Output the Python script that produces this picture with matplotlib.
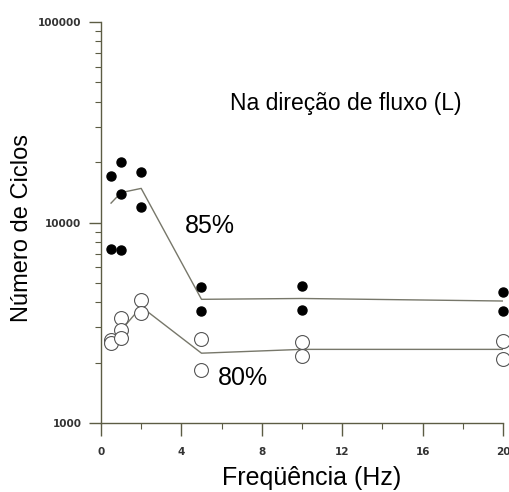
"""Numero de ciclos vs frequencia"""

from matplotlib import pyplot as plt
from matplotlib.ticker import LogLocator, NullFormatter, FixedLocator

# 85% de carga (pontos cheios)
x_85 = [0.5, 0.5, 1, 1, 1, 2, 2, 5, 5, 10, 10, 20, 20]
y_85 = [17000, 7400, 20000, 13800, 7300, 17800, 12000,
        4750, 3600, 4800, 3650, 4500, 3600]

# 80% de carga (pontos vazios)
x_80 = [0.5, 0.5, 1, 1, 1, 2, 2, 5, 5, 10, 10, 20, 20]
y_80 = [2600, 2500, 3350, 2900, 2650, 4100, 3550,
        2620, 1840, 2530, 2160, 2560, 2080]

# curvas medias
x_line = [0.5, 1, 2, 5, 10, 20]
line_85 = [12500, 14100, 14800, 4140, 4180, 4060]
line_80 = [2550, 2900, 3800, 2230, 2330, 2330]

x_ticks = [0, 4, 8, 12, 16, 20]
y_ticks = [1000, 10000, 100000]

ink = '#5c5c44'
font = ['Liberation Sans', 'DejaVu Sans']

fig = plt.figure(figsize=(5.09, 4.92), dpi=100)
ax = fig.add_axes([0.1984, 0.1402, 0.7898, 0.8150])

ax.plot(x_line, line_85, color='#77776a', lw=1.0)
ax.plot(x_line, line_80, color='#77776a', lw=1.0)
ax.plot(x_85, y_85, 'o', color='black', ms=6.5, clip_on=False, zorder=3)
ax.plot(x_80, y_80, 'o', mfc='white', mec='#555555', mew=0.8, ms=10,
        clip_on=False, zorder=3)

ax.set_yscale('log')
ax.set_ylim(1000, 100000)
ax.set_xlim(0, 20)
ax.set_xticks(x_ticks)
ax.set_xticklabels([str(t) for t in x_ticks])
ax.xaxis.set_minor_locator(FixedLocator([2, 6, 10, 14, 18]))
ax.set_yticks(y_ticks)
ax.set_yticklabels([str(t) for t in y_ticks])
ax.yaxis.set_minor_locator(LogLocator(base=10, subs=range(2, 10)))
ax.yaxis.set_minor_formatter(NullFormatter())

for side in ['top', 'right']:
    ax.spines[side].set_visible(False)
for side in ['left', 'bottom']:
    ax.spines[side].set_color(ink)
    ax.spines[side].set_linewidth(1.0)

ax.tick_params(axis='both', which='major', length=9, width=1.0,
               color=ink, direction='out')
ax.tick_params(axis='both', which='minor', length=4, width=0.8,
               color=ink, direction='out')
ax.tick_params(axis='y', which='major', pad=5)
ax.tick_params(axis='x', which='major', pad=8)
for lab in ax.get_xticklabels() + ax.get_yticklabels():
    lab.set_fontsize(7.5)
    lab.set_fontweight('bold')
    lab.set_color('#333333')

ax.set_xlabel('Freqüência (Hz)', fontsize=18, family=font, va='center')
ax.xaxis.set_label_coords(0.525, -0.137)
ax.set_ylabel('Número de Ciclos', fontsize=17, family=font, va='center')
ax.yaxis.set_label_coords(-0.197, 0.487)

ax.text(6.42, 39400, 'Na direção de fluxo (L)', fontsize=16.5,
        family=font, ha='left', va='center')
ax.text(4.18, 9600, '85%', fontsize=18, family=font, ha='left', va='center')
ax.text(5.82, 1675, '80%', fontsize=18, family=font, ha='left', va='center')

fig.savefig('out.png', dpi=100)
